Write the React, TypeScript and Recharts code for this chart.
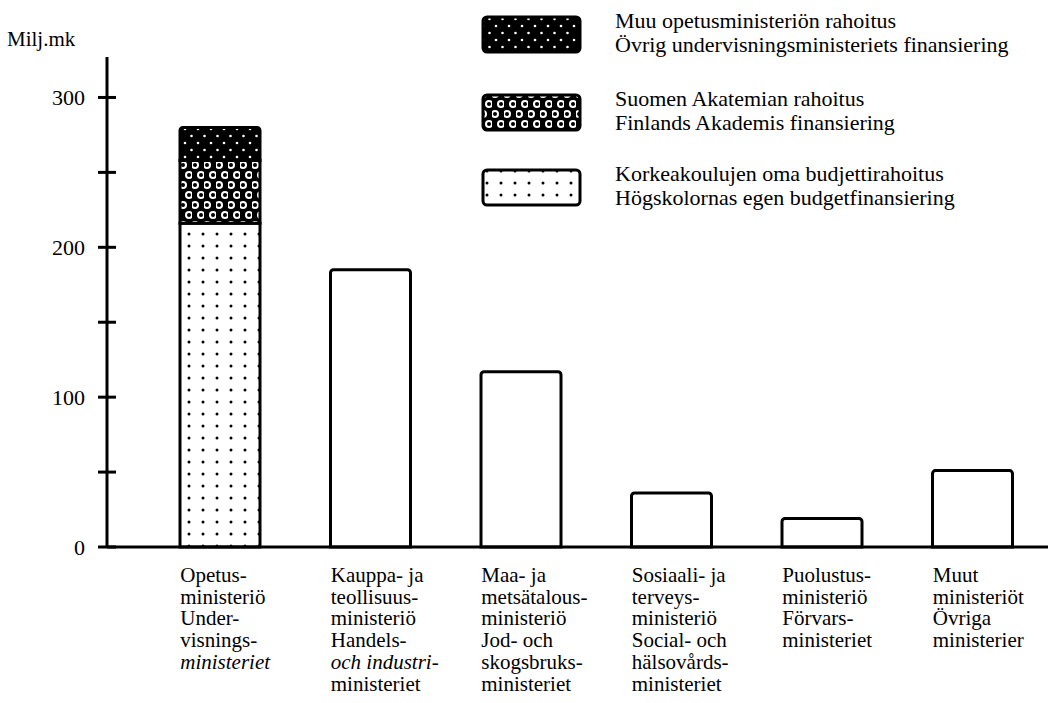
import React from 'react';
import { BarChart, Bar, XAxis, YAxis, Legend, Label } from 'recharts';

// category labels, one entry per text line
const categoryLines: string[][] = [
  ['Opetus-', 'ministeriö', 'Under-', 'visnings-', 'ministeriet'],
  ['Kauppa- ja', 'teollisuus-', 'ministeriö', 'Handels-', 'och industri-', 'ministeriet'],
  ['Maa- ja', 'metsätalous-', 'ministeriö', 'Jod- och', 'skogsbruks-', 'ministeriet'],
  ['Sosiaali- ja', 'terveys-', 'ministeriö', 'Social- och', 'hälsovårds-', 'ministeriet'],
  ['Puolustus-', 'ministeriö', 'Förvars-', 'ministeriet'],
  ['Muut', 'ministeriöt', 'Övriga', 'ministerier'],
];

// Milj.mk
const ownBudget = [216, null, null, null, null, null];
const academy = [42, null, null, null, null, null];
const otherEdu = [22, null, null, null, null, null];
const ministries = [null, 185, 117, 36, 19, 51];

const yTicks = [0, 50, 100, 150, 200, 250, 300];
const yLabels = [0, 100, 200, 300];

const legendItems = [
  { key: 'otherEdu', fill: 'url(#patTop)', lines: ['Muu opetusministeriön rahoitus', 'Övrig undervisningsministeriets finansiering'] },
  { key: 'academy', fill: 'url(#patRings)', lines: ['Suomen Akatemian rahoitus', 'Finlands Akademis finansiering'] },
  { key: 'own', fill: 'url(#patDots)', lines: ['Korkeakoulujen oma budjettirahoitus', 'Högskolornas egen budgetfinansiering'] },
];

const data = categoryLines.map((lines, i) => ({
  key: lines.join('|'),
  own: ownBudget[i],
  academy: academy[i],
  otherEdu: otherEdu[i],
  ministry: ministries[i],
}));

const FONT = 'Liberation Serif';

// lines set in italic in the print (category index, line index)
const italicLines = ['0-4', '1-4'];

function CategoryTick(props: any) {
  const { x, y, payload, index } = props;
  const lines = String(payload.value).split('|');
  return (
    <text x={x - 40} y={y + 35} fontSize={21} fontFamily={FONT} fill="#000" textAnchor="start">
      {lines.map((l, i) => (
        <tspan
          key={i}
          x={x - 40}
          dy={i === 0 ? 0 : 21.7}
          fontStyle={italicLines.includes(`${index}-${i}`) ? 'italic' : 'normal'}
        >
          {l}
        </tspan>
      ))}
    </text>
  );
}

function ValueTick(props: any) {
  const { x, y, payload } = props;
  return (
    <g>
      <line x1={x - 9} x2={x + 9} y1={y} y2={y} stroke="#000" strokeWidth={3} />
      {yLabels.includes(payload.value) && (
        <text x={x - 22} y={y + 8} fontSize={22} fontFamily={FONT} fill="#000" textAnchor="end">
          {payload.value}
        </text>
      )}
    </g>
  );
}

function LegendBox() {
  const tops = [8, 86, 161];
  return (
    <svg width={560} height={210} style={{ display: 'block', overflow: 'visible' }}>
      {legendItems.map((it, i) => (
        <g key={it.key}>
          <rect x={3} y={tops[i]} width={97} height={35} rx={4} fill={it.fill} stroke="#000" strokeWidth={3} />
          {it.lines.map((l, j) => (
            <text key={j} x={135} y={tops[i] + 11 + j * 24} fontSize={22} fontFamily={FONT} fill="#000">
              {l}
            </text>
          ))}
        </g>
      ))}
    </svg>
  );
}

export default function App() {
  return (
    <div style={{ position: 'absolute', left: 0, top: 0, width: 1048, height: 703, background: '#fff', fontFamily: FONT }}>
      <BarChart width={1048} height={703} data={data} margin={{ top: 57, right: 0, bottom: 0, left: 47 }} barSize={80}>
        <defs>
          <pattern id="patDots" width={14} height={12} patternUnits="userSpaceOnUse">
            <rect width={14} height={12} fill="#fff" />
            <circle cx={7} cy={6} r={1.5} fill="#000" />
          </pattern>
          <pattern id="patRings" width={12} height={20} patternUnits="userSpaceOnUse">
            <rect width={12} height={20} fill="#000" />
            <circle cx={3} cy={5} r={4} fill="#fff" />
            <circle cx={3} cy={5} r={2} fill="#000" />
            <circle cx={9} cy={15} r={4} fill="#fff" />
            <circle cx={9} cy={15} r={2} fill="#000" />
          </pattern>
          <pattern id="patTop" width={13} height={14} patternUnits="userSpaceOnUse">
            <rect width={13} height={14} fill="#000" />
            <circle cx={3} cy={3} r={1.3} fill="#fff" />
            <circle cx={9.5} cy={10} r={1.3} fill="#fff" />
          </pattern>
        </defs>
        <XAxis
          dataKey="key"
          height={156}
          padding={{ left: 38, right: 0 }}
          axisLine={{ stroke: '#000', strokeWidth: 3 }}
          tickLine={false}
          tickSize={0}
          tickMargin={0}
          interval={0}
          tick={<CategoryTick />}
        />
        <YAxis
          type="number"
          domain={[0, 327]}
          ticks={yTicks}
          width={60}
          axisLine={{ stroke: '#000', strokeWidth: 3 }}
          tickLine={false}
          tickSize={0}
          tickMargin={0}
          interval={0}
          tick={<ValueTick />}
        >
          <Label
            content={(p: any) => (
              <text x={p.viewBox.x - 40} y={p.viewBox.y - 11} fontSize={21} fontFamily={FONT} fill="#000">
                Milj.mk
              </text>
            )}
          />
        </YAxis>
        <Legend
          layout="vertical"
          align="center"
          verticalAlign="middle"
          wrapperStyle={{ position: 'absolute', left: 480, top: 9, width: 560, height: 210 }}
          content={() => <LegendBox />}
        />
        <Bar dataKey="own" stackId="a" fill="url(#patDots)" stroke="#000" strokeWidth={3} isAnimationActive={false} />
        <Bar dataKey="academy" stackId="a" fill="url(#patRings)" stroke="#000" strokeWidth={3} isAnimationActive={false} />
        <Bar dataKey="otherEdu" stackId="a" fill="url(#patTop)" stroke="#000" strokeWidth={3} radius={[3, 3, 0, 0]} isAnimationActive={false} />
        <Bar dataKey="ministry" stackId="a" fill="#fff" stroke="#000" strokeWidth={3} radius={[3, 3, 0, 0]} isAnimationActive={false} />
      </BarChart>
    </div>
  );
}
